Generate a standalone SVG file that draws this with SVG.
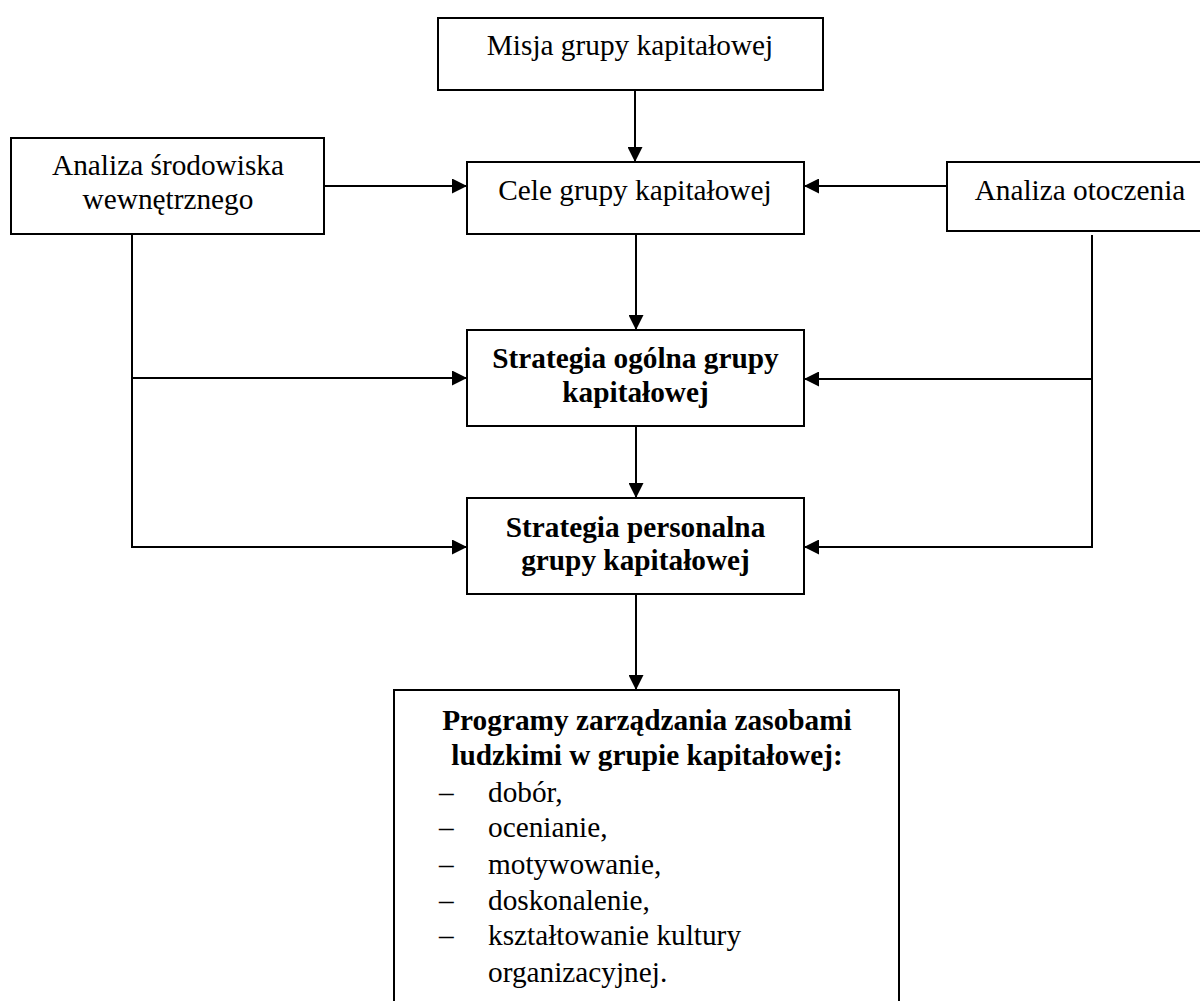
<svg xmlns="http://www.w3.org/2000/svg" width="1200" height="1001" viewBox="0 0 1200 1001">
<style>
.box{fill:#fff;stroke:#000;stroke-width:2}
.t{font-family:"Liberation Serif","Times New Roman",serif;font-size:29.3px;fill:#000}
.c{text-anchor:middle}
.b{font-weight:bold}
.ln{fill:none;stroke:#000;stroke-width:2}
</style>
<defs>
<marker id="ah" viewBox="0 0 15 15" refX="15" refY="7.5" markerWidth="15" markerHeight="15" markerUnits="userSpaceOnUse" orient="auto">
<path d="M0,0 L15,7.5 L0,15 Z" fill="#000"/>
</marker>
</defs>
<rect width="1200" height="1001" fill="#fff"/>
<g id="connectors">
<line class="ln" x1="635" y1="90" x2="635" y2="162" marker-end="url(#ah)"/>
<line class="ln" x1="324" y1="186" x2="467" y2="186" marker-end="url(#ah)"/>
<line class="ln" x1="947" y1="186" x2="804" y2="186" marker-end="url(#ah)"/>
<line class="ln" x1="636" y1="234" x2="636" y2="330" marker-end="url(#ah)"/>
<line class="ln" x1="636" y1="426" x2="636" y2="498" marker-end="url(#ah)"/>
<line class="ln" x1="636" y1="594" x2="636" y2="690" marker-end="url(#ah)"/>
<polyline class="ln" points="132,234 132,547 467,547" marker-end="url(#ah)"/>
<line class="ln" x1="132" y1="378" x2="467" y2="378" marker-end="url(#ah)"/>
<polyline class="ln" points="1092,235 1092,547 804,547" marker-end="url(#ah)"/>
<line class="ln" x1="1092" y1="379" x2="804" y2="379" marker-end="url(#ah)"/>
</g>
<g id="misja">
<rect class="box" x="438" y="18" width="385" height="72"/>
<text class="t c" x="630" y="55">Misja grupy kapitałowej</text>
</g>
<g id="analiza-srodowiska">
<rect class="box" x="11" y="138" width="313" height="96"/>
<text class="t c" x="168" y="175">Analiza środowiska</text>
<text class="t c" x="168" y="209">wewnętrznego</text>
</g>
<g id="cele">
<rect class="box" x="467" y="162" width="337" height="72"/>
<text class="t c" x="635" y="200">Cele grupy kapitałowej</text>
</g>
<g id="analiza-otoczenia">
<rect class="box" x="947" y="162" width="265" height="69"/>
<text class="t c" x="1080" y="200">Analiza otoczenia</text>
</g>
<g id="strategia-ogolna">
<rect class="box" x="467" y="330" width="337" height="96"/>
<text class="t c b" x="635.5" y="368">Strategia ogólna grupy</text>
<text class="t c b" x="635.5" y="402">kapitałowej</text>
</g>
<g id="strategia-personalna">
<rect class="box" x="467" y="498" width="337" height="96"/>
<text class="t c b" x="635.5" y="537">Strategia personalna</text>
<text class="t c b" x="635.5" y="570">grupy kapitałowej</text>
</g>
<g id="programy">
<rect class="box" x="394" y="690" width="505" height="330"/>
<text class="t c b" x="647" y="730">Programy zarządzania zasobami</text>
<text class="t c b" x="647" y="765">ludzkimi w grupie kapitałowej:</text>
<text class="t" x="439" y="802">–</text><text class="t" x="488" y="802">dobór,</text>
<text class="t" x="439" y="837">–</text><text class="t" x="488" y="837">ocenianie,</text>
<text class="t" x="439" y="874">–</text><text class="t" x="488" y="874">motywowanie,</text>
<text class="t" x="439" y="910">–</text><text class="t" x="488" y="910">doskonalenie,</text>
<text class="t" x="439" y="945">–</text><text class="t" x="488" y="945">kształtowanie kultury</text>
<text class="t" x="488" y="982">organizacyjnej.</text>
</g>
</svg>
